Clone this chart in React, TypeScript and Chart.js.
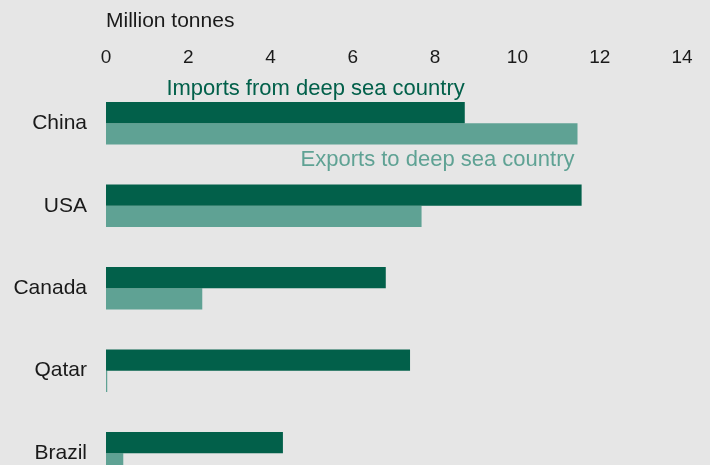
import React, { useEffect, useRef } from "react";
import { Chart, registerables } from "chart.js";

Chart.register(...registerables);

const countries = ["China", "USA", "Canada", "Qatar", "Brazil"];
const importsFromDeepSea = [8.72, 11.56, 6.8, 7.39, 4.3];
const exportsToDeepSea = [11.46, 7.67, 2.34, 0.03, 0.42];
const xTicks = [0, 2, 4, 6, 8, 10, 12, 14];
const axisTitle = "Million tonnes";
const importLabel = "Imports from deep sea country";
const exportLabel = "Exports to deep sea country";

const DARK = "#02604a";
const LIGHT = "#5fa294";
const BG = "#e6e6e6";
const TEXT = "#1a1a1a";
const FONT = '"Liberation Sans", Arial, sans-serif';

export default function App() {
  const ref = useRef<HTMLCanvasElement | null>(null);

  useEffect(() => {
    if (!ref.current) return;
    const bgPlugin = {
      id: "bg",
      beforeDraw(chart: any) {
        const ctx = chart.ctx;
        ctx.save();
        ctx.fillStyle = BG;
        ctx.fillRect(0, 0, chart.width, chart.height);
        ctx.restore();
      },
    };
    const labelPlugin = {
      id: "seriesLabels",
      afterDatasetsDraw(chart: any) {
        const ctx = chart.ctx;
        const imp = chart.getDatasetMeta(0).data[0] as any;
        const exp = chart.getDatasetMeta(1).data[0] as any;
        ctx.save();
        ctx.font = `22px ${FONT}`;
        ctx.textAlign = "right";
        ctx.textBaseline = "alphabetic";
        ctx.fillStyle = DARK;
        ctx.fillText(importLabel, imp.x, imp.y - imp.height / 2 - 7);
        ctx.fillStyle = LIGHT;
        ctx.fillText(exportLabel, exp.x - 3, exp.y + exp.height / 2 + 21);
        ctx.restore();
      },
    };

    const chart = new Chart(ref.current, {
      type: "bar",
      data: {
        labels: countries,
        datasets: [
          {
            label: importLabel,
            data: importsFromDeepSea,
            backgroundColor: DARK,
            borderWidth: 0,
            barPercentage: 1,
            categoryPercentage: 0.516,
          },
          {
            label: exportLabel,
            data: exportsToDeepSea,
            backgroundColor: LIGHT,
            borderWidth: 0,
            barPercentage: 1,
            categoryPercentage: 0.516,
          },
        ],
      },
      options: {
        indexAxis: "y",
        responsive: false,
        animation: false,
        layout: { padding: { left: 12, right: 28, top: 0, bottom: 0 } },
        plugins: {
          legend: { display: false },
          tooltip: { enabled: false },
        },
        scales: {
          x: {
            position: "top",
            min: 0,
            max: 14,
            afterBuildTicks: (s: any) => {
              s.ticks = xTicks.map((v) => ({ value: v }));
            },
            grid: { display: false, drawTicks: false },
            border: { display: false },
            ticks: {
              color: TEXT,
              padding: 13,
              font: { family: FONT, size: 19 },
              maxRotation: 0,
            },
            title: {
              display: true,
              text: axisTitle,
              align: "start",
              color: TEXT,
              font: { family: FONT, size: 21 },
              padding: { top: 9, bottom: -1 },
            },
          },
          y: {
            grid: { display: false, drawTicks: false },
            border: { display: false },
            afterFit: (s: any) => {
              s.width = 94;
            },
            ticks: {
              color: TEXT,
              padding: 19,
              font: { family: FONT, size: 21 },
            },
          },
        },
      },
      plugins: [bgPlugin, labelPlugin],
    });
    return () => chart.destroy();
  }, []);

  return (
    <div
      style={{
        position: "fixed",
        left: 0,
        top: 0,
        width: 710,
        height: 465,
        overflow: "hidden",
        background: BG,
      }}
    >
      <canvas ref={ref} width={710} height={526} style={{ display: "block" }} />
    </div>
  );
}
